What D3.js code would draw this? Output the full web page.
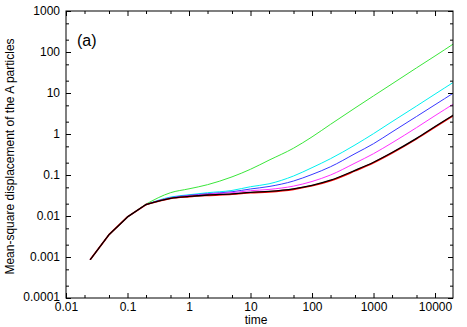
<!DOCTYPE html>
<html>
<head>
<meta charset="utf-8">
<script src="https://cdn.jsdelivr.net/npm/d3@7"></script>
<style>
  html, body { margin: 0; padding: 0; background: #fff; }
  svg { display: block; font-family: "Liberation Sans", Arial, sans-serif; }
</style>
</head>
<body>
<svg id="chart" width="467" height="327"></svg>
<script>
// ---- data ----
const times = [0.025, 0.05, 0.1, 0.2, 0.5, 1, 2, 5, 10, 20, 50, 100, 200, 500, 1000, 2000, 5000, 10000, 20000];
const greenVals   = [0.00088, 0.0035, 0.0095, 0.0195, 0.037, 0.046, 0.058, 0.09, 0.138, 0.23, 0.45, 0.85, 1.72, 4.3, 8.5, 16.7, 41, 80, 158];
const cyanVals    = [0.00088, 0.0035, 0.0095, 0.0192, 0.029, 0.033, 0.037, 0.042, 0.0518, 0.061, 0.0945, 0.151, 0.25, 0.54, 1.02, 2.0, 4.8, 9.4, 18.3];
const blueVals    = [0.00088, 0.0035, 0.0095, 0.019, 0.028, 0.032, 0.035, 0.039, 0.0456, 0.0524, 0.0713, 0.103, 0.159, 0.331, 0.58, 1.12, 2.67, 5.17, 10.0];
const magentaVals = [0.00088, 0.0035, 0.0095, 0.019, 0.0275, 0.031, 0.034, 0.037, 0.0414, 0.0445, 0.0536, 0.0695, 0.100, 0.195, 0.331, 0.609, 1.43, 2.8, 5.4];
const redVals     = [0.00088, 0.0035, 0.0095, 0.019, 0.0268, 0.0297, 0.0318, 0.0340, 0.0368, 0.0388, 0.0447, 0.0544, 0.0725, 0.126, 0.199, 0.343, 0.76, 1.47, 2.83];
const blackVals   = [0.00088, 0.0035, 0.0095, 0.019, 0.027, 0.030, 0.0325, 0.0348, 0.0379, 0.040, 0.0461, 0.0561, 0.0747, 0.130, 0.205, 0.353, 0.78, 1.52, 2.92];

const seriesNames  = ["green", "cyan", "blue", "magenta", "red", "black"];
const seriesColors = ["#3ae63a", "#00f0f0", "#3838ff", "#ff30ff", "#ff0000", "#000000"];
const seriesValues = [greenVals, cyanVals, blueVals, magentaVals, redVals, blackVals];

const xTickVals = [0.01, 0.1, 1, 10, 100, 1000, 10000];
const xTickLabels = ["0.01", "0.1", "1", "10", "100", "1000", "10000"];
const yTickVals = [0.0001, 0.001, 0.01, 0.1, 1, 10, 100, 1000];
const yTickLabels = ["0.0001", "0.001", "0.01", "0.1", "1", "10", "100", "1000"];

const xLabel = "time";
const yLabel = "Mean-square displacement of the A particles";
const panelLabel = "(a)";

// ---- layout ----
const svg = d3.select("#chart");
const L = 66, R = 453, T = 11, B = 298;

const x = d3.scaleLog().domain([0.01, 19600]).range([L, R]);
const y = d3.scaleLog().domain([0.0001, 1000]).range([B, T]);

// minor ticks at 2 and 5 of each decade
const xMinor = [];
for (let e = -2; e <= 4; e++) { [2, 5].forEach(m => { const v = m * Math.pow(10, e); if (v <= 19600) xMinor.push(v); }); }
const yMinor = [];
for (let e = -4; e <= 2; e++) { [2, 5].forEach(m => yMinor.push(m * Math.pow(10, e))); }

// clip
svg.append("defs").append("clipPath").attr("id", "clip")
  .append("rect").attr("x", L).attr("y", T).attr("width", R - L).attr("height", B - T);

// lines: straight segments for the early points, smooth afterwards
const lineLin = d3.line().x(d => x(d[0])).y(d => y(d[1]));
const lineSmooth = d3.line().x(d => x(d[0])).y(d => y(d[1])).curve(d3.curveMonotoneX);
const lineG = svg.append("g").attr("clip-path", "url(#clip)");
const splitAt = 3; // index of t = 0.2
seriesValues.forEach((vals, i) => {
  const pts = times.map((t, j) => [t, vals[j]]);
  const w = seriesNames[i] === "black" ? 1.3 : (seriesNames[i] === "red" ? 1.6 : 1);
  [[lineLin, pts.slice(0, splitAt + 1)], [lineSmooth, pts.slice(splitAt)]].forEach(([gen, seg]) => {
    lineG.append("path")
      .datum(seg)
      .attr("fill", "none")
      .attr("stroke", seriesColors[i])
      .attr("stroke-width", w)
      .attr("stroke-linejoin", "round")
      .attr("stroke-linecap", "round")
      .attr("d", gen);
  });
});

// axes (ticks inward, mirrored)
const fmtX = (d) => { const i = xTickVals.indexOf(d); return i >= 0 ? xTickLabels[i] : ""; };
const fmtY = (d) => { const i = yTickVals.indexOf(d); return i >= 0 ? yTickLabels[i] : ""; };

function styleAxis(g) {
  g.select(".domain").remove();
  g.selectAll("line").attr("stroke", "#000").attr("stroke-width", 1);
  g.selectAll("text").attr("fill", "#000").style("font-size", "12px").style("font-family", "Liberation Sans, Arial, sans-serif");
}

// bottom
svg.append("g").attr("transform", `translate(0,${B})`)
  .call(d3.axisBottom(x).tickValues(xTickVals).tickFormat(fmtX).tickSizeInner(-5).tickSizeOuter(0).tickPadding(4))
  .call(styleAxis);
svg.append("g").attr("transform", `translate(0,${B})`)
  .call(d3.axisBottom(x).tickValues(xMinor).tickFormat("").tickSizeInner(-3).tickSizeOuter(0))
  .call(styleAxis);
// top
svg.append("g").attr("transform", `translate(0,${T})`)
  .call(d3.axisTop(x).tickValues(xTickVals).tickFormat("").tickSizeInner(-5).tickSizeOuter(0))
  .call(styleAxis);
svg.append("g").attr("transform", `translate(0,${T})`)
  .call(d3.axisTop(x).tickValues(xMinor).tickFormat("").tickSizeInner(-3).tickSizeOuter(0))
  .call(styleAxis);
// left
const leftAxis = svg.append("g").attr("transform", `translate(${L},0)`)
  .call(d3.axisLeft(y).tickValues(yTickVals).tickFormat(fmtY).tickSizeInner(-5).tickSizeOuter(0).tickPadding(6))
  .call(styleAxis);
// lift the lowest label slightly so it clears the x labels
leftAxis.selectAll(".tick").filter(d => d === yTickVals[0]).select("text").attr("dy", "0.2em");
svg.append("g").attr("transform", `translate(${L},0)`)
  .call(d3.axisLeft(y).tickValues(yMinor).tickFormat("").tickSizeInner(-3).tickSizeOuter(0))
  .call(styleAxis);
// right
svg.append("g").attr("transform", `translate(${R},0)`)
  .call(d3.axisRight(y).tickValues(yTickVals).tickFormat("").tickSizeInner(-5).tickSizeOuter(0))
  .call(styleAxis);
svg.append("g").attr("transform", `translate(${R},0)`)
  .call(d3.axisRight(y).tickValues(yMinor).tickFormat("").tickSizeInner(-3).tickSizeOuter(0))
  .call(styleAxis);

// frame
svg.append("rect").attr("x", L).attr("y", T).attr("width", R - L).attr("height", B - T)
  .attr("fill", "none").attr("stroke", "#000").attr("stroke-width", 1);

// labels
svg.append("text").attr("x", 256).attr("y", 324).attr("text-anchor", "middle")
  .style("font-size", "12px").text(xLabel);
svg.append("text").attr("transform", `translate(14,${(T + B) / 2 + 2}) rotate(-90)`).attr("text-anchor", "middle")
  .style("font-size", "12px").text(yLabel);
svg.append("text").attr("x", 77).attr("y", 46).style("font-size", "16px").text(panelLabel);
</script>
</body>
</html>
